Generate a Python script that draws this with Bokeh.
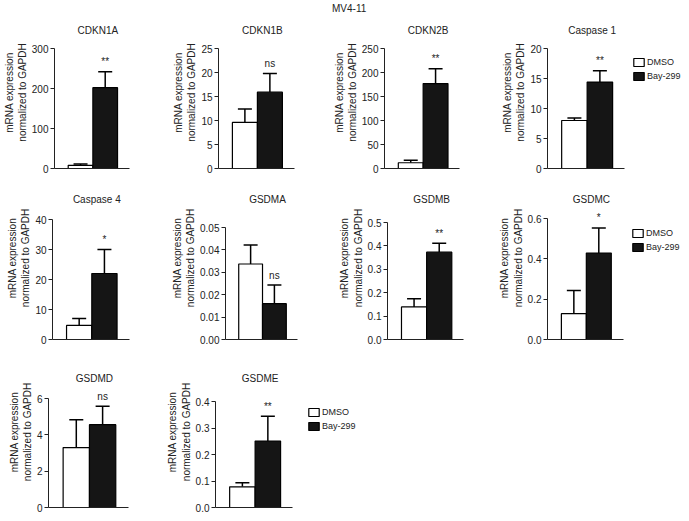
from bokeh.plotting import figure
from bokeh.models import (Range1d, FixedTicker, Whisker, TeeHead, ColumnDataSource,
                          Legend, LegendItem, Div, Spacer)
from bokeh.layouts import column, row
from bokeh.core.properties import value
from bokeh.embed import file_html
from bokeh.resources import INLINE

# ---------------- data ----------------
main_title = "MV4-11"
series_names = ["DMSO", "Bay-299"]
genes = ["CDKN1A", "CDKN1B", "CDKN2B", "Caspase 1", "Caspase 4",
         "GSDMA", "GSDMB", "GSDMC", "GSDMD", "GSDME"]
dmso_mean = [8, 9.6, 12, 8.0, 4.7, 0.0337, 0.139, 0.128, 3.30, 0.078]
dmso_err = [3.5, 2.8, 5, 0.4, 2.3, 0.0085, 0.035, 0.115, 1.53, 0.015]
bay_mean = [202, 15.9, 177, 14.4, 22.0, 0.016, 0.373, 0.429, 4.56, 0.251]
bay_err = [40, 3.9, 31, 1.9, 8.0, 0.0083, 0.038, 0.124, 1.01, 0.093]
significance = ["**", "ns", "**", "**", "*", "ns", "**", "*", "ns", "**"]
y_max = [300, 25, 250, 20, 40, 0.05, 0.5, 0.6, 6, 0.4]
y_ticks = [
    [0, 100, 200, 300],
    [0, 5, 10, 15, 20, 25],
    [0, 50, 100, 150, 200, 250],
    [0, 5, 10, 15, 20],
    [0, 10, 20, 30, 40],
    [0, 0.01, 0.02, 0.03, 0.04, 0.05],
    [0, 0.1, 0.2, 0.3, 0.4, 0.5],
    [0, 0.2, 0.4, 0.6],
    [0, 2, 4, 6],
    [0, 0.1, 0.2, 0.3, 0.4],
]
y_tick_labels = [
    ["0", "100", "200", "300"],
    ["0", "5", "10", "15", "20", "25"],
    ["0", "50", "100", "150", "200", "250"],
    ["0", "5", "10", "15", "20"],
    ["0", "10", "20", "30", "40"],
    ["0.00", "0.01", "0.02", "0.03", "0.04", "0.05"],
    ["0.0", "0.1", "0.2", "0.3", "0.4", "0.5"],
    ["0.0", "0.2", "0.4", "0.6"],
    ["0", "2", "4", "6"],
    ["0.0", "0.1", "0.2", "0.3", "0.4"],
]
y_label = "mRNA expression\nnormalized to GAPDH"

# ---------------- style / layout ----------------
FONT = "Liberation Sans"
TXT = "#222222"
UNIT = 27.0       # px per bar
X0 = -0.056       # x-range start (bars centred at 1 and 2)
BAR_X = [1, 2]
BASE_W = 82       # px length of the x-axis baseline
TOTAL_W = 681


def panel(i, width, height, border, tick_top, bottom, title_dy, legend_at=None):
    frame_h = height - bottom
    fh = frame_h - tick_top
    y_end = y_max[i] * frame_h / fh
    fw = width - border
    x_end = X0 + fw / UNIT
    p = figure(width=width, height=height,
               min_border_left=0, min_border_right=0,
               min_border_top=0, min_border_bottom=bottom,
               x_range=Range1d(X0, x_end), y_range=Range1d(0, y_end),
               toolbar_location=None, output_backend="svg", title=None)
    p.outline_line_color = None
    p.grid.visible = False
    p.background_fill_color = "white"
    p.border_fill_color = "white"

    # panel title
    t_src = ColumnDataSource(dict(x=[sum(BAR_X) / 2], y=[y_end], t=[genes[i]]))
    p.text(x="x", y="y", text="t", source=t_src, text_align="center",
           text_baseline="middle", x_offset=5, y_offset=title_dy,
           text_font=value(FONT), text_font_size="10px", text_color=TXT)

    # bars
    src_d = ColumnDataSource(dict(x=[BAR_X[0]], top=[dmso_mean[i]]))
    src_b = ColumnDataSource(dict(x=[BAR_X[1]], top=[bay_mean[i]]))
    r_d = p.vbar(x="x", top="top", bottom=0, width=1, source=src_d,
                 fill_color="white", line_color="black", line_width=1.2)
    r_b = p.vbar(x="x", top="top", bottom=0, width=1, source=src_b,
                 fill_color="#151515", line_color="black", line_width=1.2)

    # error bars (upper only)
    err_src = ColumnDataSource(dict(
        base=BAR_X,
        lower=[dmso_mean[i], bay_mean[i]],
        upper=[dmso_mean[i] + dmso_err[i], bay_mean[i] + bay_err[i]]))
    w = Whisker(base="base", lower="lower", upper="upper", source=err_src,
                dimension="height", line_color="black", line_width=1.5,
                upper_head=TeeHead(size=14, line_color="black", line_width=1.5),
                lower_head=None)
    p.add_layout(w)

    # significance label
    sig_src = ColumnDataSource(dict(x=[BAR_X[1]], y=[bay_mean[i] + bay_err[i]],
                                    t=[significance[i]]))
    p.text(x="x", y="y", text="t", source=sig_src, text_align="center",
           text_baseline="middle", y_offset=-10, text_font=value(FONT),
           text_font_size="10px", text_color=TXT)

    # axes
    p.yaxis.bounds = (0, y_max[i])
    p.yaxis.ticker = FixedTicker(ticks=y_ticks[i])
    p.yaxis.major_label_overrides = {t: s for t, s in zip(y_ticks[i], y_tick_labels[i])}
    p.yaxis.minor_tick_line_color = None
    p.yaxis.major_tick_in = 0
    p.yaxis.major_tick_out = 4
    p.yaxis.major_label_standoff = 2
    p.yaxis.major_label_text_font = FONT
    p.yaxis.major_label_text_font_size = "10px"
    p.yaxis.major_label_text_color = TXT
    p.yaxis.axis_label = y_label
    p.yaxis.axis_label_text_font = FONT
    p.yaxis.axis_label_text_font_size = "10px"
    p.yaxis.axis_label_text_font_style = "normal"
    p.yaxis.axis_label_text_color = TXT
    p.yaxis.axis_label_standoff = 1
    p.yaxis.axis_line_color = "#222222"
    p.yaxis.major_tick_line_color = "#222222"

    p.xaxis.bounds = (X0, X0 + BASE_W / UNIT)
    p.xaxis.ticker = FixedTicker(ticks=[])
    p.xaxis.major_tick_out = 0
    p.xaxis.major_tick_in = 0
    p.xaxis.minor_tick_line_color = None
    p.xaxis.major_label_text_font_size = "0px"
    p.xaxis.major_label_standoff = 0
    p.xaxis.axis_line_color = "#222222"

    if legend_at is not None:
        leg = Legend(items=[LegendItem(label=series_names[0], renderers=[r_d]),
                            LegendItem(label=series_names[1], renderers=[r_b])],
                     location=legend_at, orientation="vertical",
                     glyph_width=13, glyph_height=10, label_height=10,
                     label_standoff=2, spacing=4, padding=0, margin=0,
                     border_line_color=None, background_fill_alpha=0,
                     label_text_font=FONT, label_text_font_size="9px",
                     label_text_color=TXT)
        p.add_layout(leg)
    return p


HDR_H = 16
header = Div(text=('<div style="margin-left:332px;font-family:\'Liberation Sans\';'
                   'font-size:10px;line-height:16px;color:#222;">' + main_title + '</div>'),
             width=TOTAL_W, height=HDR_H, margin=0, styles={"overflow": "visible"})

# header 0..16, row 1: 16..176, row 2: 176..356, row 3: 356..513
H1, H2, H3 = 160, 180, 157
row1 = row(
    panel(0, 170, H1, 43, 32, 8, 14),
    panel(1, 160, H1, 39, 32, 8, 14),
    panel(2, 169, H1, 44, 32, 8, 14),
    panel(3, 182, H1, 40, 32, 8, 14, legend_at=(85, 87)),
)
row2 = row(
    Spacer(width=4, height=H2),
    panel(4, 164, H2, 40, 43, 17, 23),
    panel(5, 168, H2, 42, 51, 17, 23),
    panel(6, 160, H2, 43, 46, 17, 23),
    panel(7, 185, H2, 40, 42, 17, 23, legend_at=(84, 87)),
)
row3 = row(
    Spacer(width=5, height=H3),
    panel(8, 159, H3, 40, 42, 6, 22),
    panel(9, 200, H3, 42, 45, 6, 22, legend_at=(92, 76)),
)

layout = column(header, row1, row2, row3)

with open("out.html", "w") as f:
    f.write(file_html(layout, INLINE))
